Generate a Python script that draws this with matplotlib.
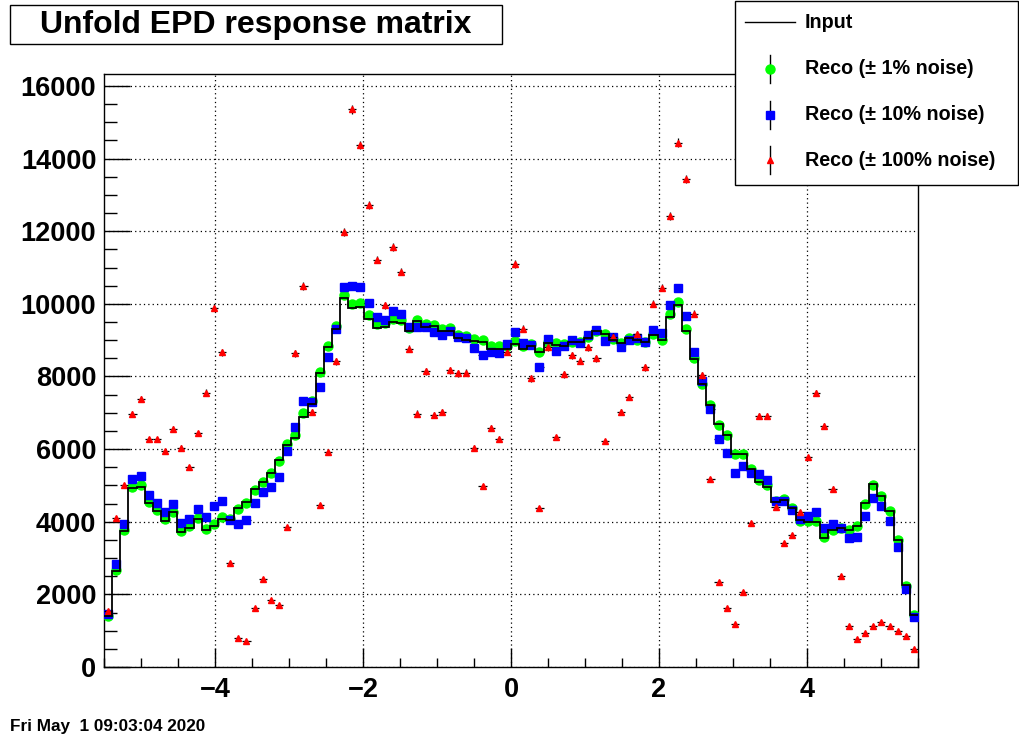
import numpy as np
import matplotlib
matplotlib.use("Agg")
import matplotlib.pyplot as plt
from matplotlib.patches import Rectangle
from matplotlib.lines import Line2D
from matplotlib.ticker import MultipleLocator

# ---------------- data ----------------
x_min, x_max, n_bins = -5.5, 5.5, 100

input_vals = [
    1400, 2650, 3750, 4930, 4960, 4510, 4300, 4010, 4270, 3710,
    3840, 4070, 3760, 3880, 4070, 4040, 4370, 4540, 4890, 5100,
    5335, 5690, 6110, 6300, 6890, 7240, 8100, 8810, 9300, 10175,
    9885, 9926, 9596, 9327, 9368, 9513, 9471, 9265, 9533, 9368,
    9389, 9265, 9265, 9058, 9006, 8975, 8954, 8768, 8768, 8768,
    8882, 8768, 8851, 8665, 8923, 8872, 8851, 8954, 8954, 9058,
    9254, 9161, 9006, 8913, 9058, 9006, 8954, 9141, 8996, 9647,
    9968, 9244, 8468, 7786, 7217, 6680, 6400, 5873, 5873, 5439,
    5108, 4963, 4539, 4612, 4374, 4050, 4000, 4000, 3557, 3784,
    3836, 3784, 3888, 4508, 5046, 4715, 4301, 3505, 2264, 1427,
]

reco_1pct = [
    1406, 2668, 3764, 4963, 5015, 4539, 4322, 4064, 4270, 3753,
    3888, 4095, 3805, 3940, 4126, 4074, 4343, 4508, 4870, 5098,
    5346, 5666, 6132, 6390, 6990, 7321, 8117, 8830, 9378, 10257,
    10009, 10030, 9689, 9440, 9471, 9575, 9544, 9337, 9544, 9440,
    9420, 9306, 9327, 9151, 9110, 9027, 9006, 8851, 8840, 8840,
    8975, 8841, 8882, 8675, 8954, 8913, 8882, 8944, 8944, 9099,
    9265, 9161, 9027, 8913, 9068, 9006, 8954, 9161, 9016, 9709,
    10040, 9306, 8510, 7786, 7217, 6659, 6390, 5863, 5863, 5449,
    5160, 5005, 4581, 4632, 4374, 4022, 4012, 4012, 3578, 3784,
    3836, 3784, 3888, 4477, 5025, 4715, 4301, 3505, 2233, 1427,
]

reco_10pct = [
    1450, 2823, 3940, 5180, 5273, 4746, 4529, 4270, 4498, 3971,
    4064, 4343, 4136, 4446, 4560, 4050, 3925, 4050, 4508, 4829,
    4963, 5222, 5956, 6618, 7321, 7300, 7714, 8541, 9306, 10454,
    10485, 10454, 10030, 9627, 9544, 9802, 9709, 9358, 9358, 9358,
    9234, 9151, 9265, 9078, 9058, 8789, 8593, 8675, 8655, 8892,
    9234, 8934, 8880, 8262, 9027, 8706, 8850, 8996, 8930, 9141,
    9275, 8975, 9089, 8799, 8996, 9058, 8954, 9275, 9203, 9968,
    10433, 9668, 8665, 7869, 7093, 6266, 5904, 5356, 5522, 5356,
    5304, 5160, 4560, 4560, 4322, 4074, 4146, 4270, 3815, 3940,
    3815, 3557, 3578, 4146, 4663, 4426, 4033, 3298, 2151, 1386,
]

reco_100pct = [
    1530, 4095, 5005, 6959, 7372, 6266, 6266, 5935, 6566, 6028,
    5501, 6431, 7559, 9895, 8665, 2864, 807, 713, 1623, 2420,
    1840, 1706, 3846, 8634, 10495, 7010, 4457, 5914, 8417, 11974,
    15365, 14373, 12729, 11219, 9957, 11570, 10888, 8768, 6980, 8138,
    6928, 7031, 8169, 8086, 8107, 6028, 4974, 6576, 6276, 8686,
    11105, 9320, 7950, 4370, 8800, 6320, 8060, 8580, 8440, 8800,
    8500, 6210, 9100, 7020, 7440, 9160, 8250, 10000, 10443, 12429,
    14435, 13432, 9730, 8034, 5170, 2337, 1623, 1189, 2058, 3960,
    6907, 6907, 4405, 3412, 3629, 4270, 5770, 7548, 6628, 4912,
    2502, 1117, 776, 931, 1137, 1241, 1117, 993, 858, 507,
]

title = "Unfold EPD response matrix"
legend_labels = ["Input", "Reco (\u00b1 1% noise)", "Reco (\u00b1 10% noise)",
                 "Reco (\u00b1 100% noise)"]
footer = "Fri May  1 09:03:04 2020"

# ---------------- figure ----------------
W, H = 1020, 740
FONT = "Liberation Sans"
plt.rcParams['font.family'] = [FONT, 'DejaVu Sans']
plt.rcParams['font.weight'] = 'bold'

fig = plt.figure(figsize=(W / 100, H / 100), dpi=100)
fig.patch.set_facecolor('white')

ax_l, ax_r, ax_t, ax_b = 104, 918, 74, 667
ax = fig.add_axes([ax_l / W, 1 - ax_b / H, (ax_r - ax_l) / W, (ax_b - ax_t) / H])

edges = np.linspace(x_min, x_max, n_bins + 1)
centers = 0.5 * (edges[:-1] + edges[1:])
half_w = 0.5 * (edges[1] - edges[0])

GREEN, BLUE, RED = '#00ff00', '#0000ff', '#ff0000'
MS_G, MS_B, MS_R = 6.5, 5.5, 4.2


def draw_series(vals, marker, color, ms, z):
    v = np.asarray(vals, dtype=float)
    ax.errorbar(centers, v, yerr=np.sqrt(v), xerr=half_w, fmt=marker,
                color=color, mfc=color, mec=color, ms=ms, ecolor='black',
                elinewidth=0.9, capsize=0, zorder=z, linestyle='none')


draw_series(reco_1pct, 'o', GREEN, MS_G, 3)
draw_series(reco_10pct, 's', BLUE, MS_B, 4)
draw_series(reco_100pct, '^', RED, MS_R, 5)
ax.stairs(input_vals, edges, color='black', lw=1.3, baseline=None, zorder=6)

ax.set_xlim(x_min, x_max)
ax.set_ylim(0, 16330)

ax.xaxis.set_major_locator(MultipleLocator(2))
ax.xaxis.set_minor_locator(MultipleLocator(0.5))
ax.yaxis.set_major_locator(MultipleLocator(2000))
ax.yaxis.set_minor_locator(MultipleLocator(500))

ax.tick_params(axis='both', which='both', direction='in', top=False, right=False,
               width=1.0, colors='black')
ax.tick_params(axis='y', which='major', length=18.5, pad=5.5, labelsize=19.5)
ax.tick_params(axis='y', which='minor', length=9.3)
ax.tick_params(axis='x', which='major', length=13.5, pad=7, labelsize=19.5)
ax.tick_params(axis='x', which='minor', length=6.5)
for lab in ax.get_xticklabels() + ax.get_yticklabels():
    lab.set_fontweight('bold')

ax.grid(True, which='major', color='black', linestyle=(0, (1, 2.5)), lw=0.9)
ax.set_axisbelow(True)
for sp in ax.spines.values():
    sp.set_linewidth(1.0)
    sp.set_color('black')


def fx(x):
    return x / W


def fy(y):
    return 1 - y / H


# title box
fig.add_artist(Rectangle((fx(10), fy(44)), fx(502) - fx(10), fy(5) - fy(44),
                         transform=fig.transFigure, facecolor='white',
                         edgecolor='black', lw=1.0, zorder=10))
fig.text(fx(256), fy(24.5), title, ha='center', va='center', fontsize=23,
         fontweight='bold', zorder=11)

# legend box
fig.add_artist(Rectangle((fx(735), fy(185)), fx(1018) - fx(735), fy(1) - fy(185),
                         transform=fig.transFigure, facecolor='white',
                         edgecolor='black', lw=1.0, zorder=10))
rows_y = [22, 69, 115, 160]
fig.add_artist(Line2D([fx(745), fx(795)], [fy(22), fy(22)], transform=fig.transFigure,
                      color='black', lw=1.0, zorder=11))
leg_styles = [('o', GREEN, MS_G), ('s', BLUE, MS_B), ('^', RED, MS_R)]
for (mk, col, ms), yy in zip(leg_styles, rows_y[1:]):
    fig.add_artist(Line2D([fx(770), fx(770)], [fy(yy - 14), fy(yy + 14)],
                          transform=fig.transFigure, color='black', lw=1.0, zorder=11))
    fig.add_artist(Line2D([fx(770)], [fy(yy)], transform=fig.transFigure, marker=mk,
                          color=col, mfc=col, mec=col, ms=ms, linestyle='none', zorder=12))
for lab, yy in zip(legend_labels, rows_y):
    fig.text(fx(805), fy(yy), lab, ha='left', va='center', fontsize=14.2,
             fontweight='bold', zorder=12)

fig.text(fx(10), fy(726), footer, ha='left', va='center', fontsize=12.3,
         fontweight='bold')

fig.savefig("out.png", dpi=100, facecolor='white')
